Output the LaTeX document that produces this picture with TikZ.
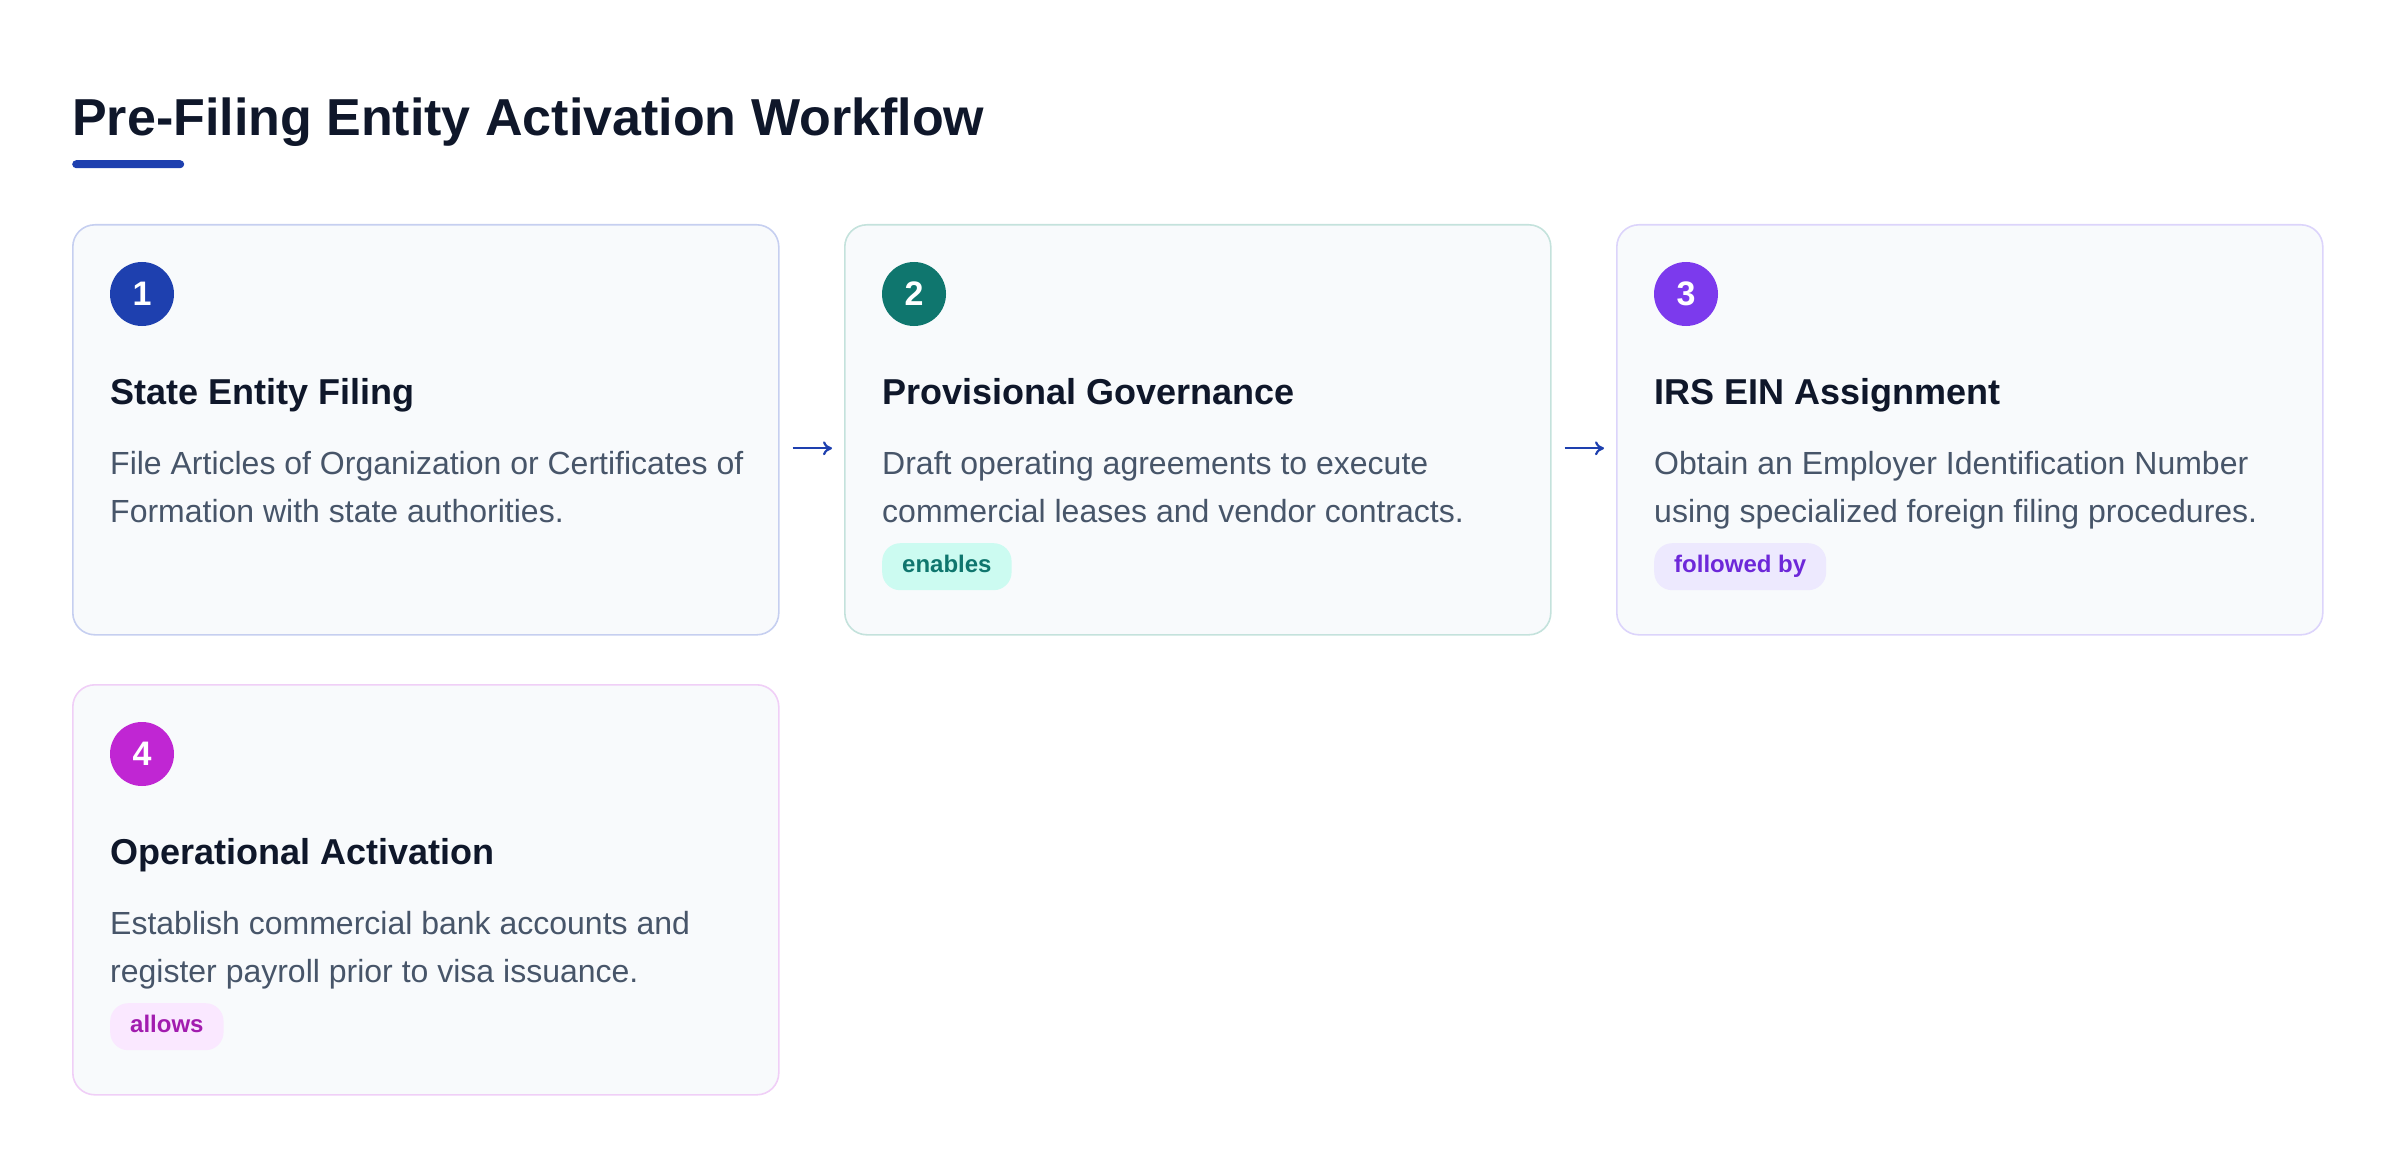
\documentclass[tikz,border=0pt]{standalone}
\usepackage{fontspec}
\setmainfont{Liberation Sans}
\usetikzlibrary{arrows.meta}
\definecolor{ttl}{HTML}{0F172A}
\definecolor{desc}{HTML}{475569}
\definecolor{cardfill}{HTML}{F8FAFC}
\definecolor{aone}{HTML}{1E40AF}
\definecolor{atwo}{HTML}{0F766E}
\definecolor{athree}{HTML}{7C3AED}
\definecolor{afour}{HTML}{C026D3}
\definecolor{bone}{HTML}{C6CFF0}
\definecolor{btwo}{HTML}{C4E2DC}
\definecolor{bthree}{HTML}{DCD4FB}
\definecolor{bfour}{HTML}{F0CFF7}
\definecolor{pone}{HTML}{CCFBF1}
\definecolor{ptwo}{HTML}{EDE9FE}
\definecolor{pthree}{HTML}{FAE8FF}
\definecolor{tone}{HTML}{0F766E}
\definecolor{ttwo}{HTML}{6D28D9}
\definecolor{tthree}{HTML}{A21CAF}
\tikzset{
  card/.style={draw=#1, line width=1.6pt, fill=cardfill, rounded corners=22pt,
    minimum width=706pt, minimum height=410pt, anchor=north west, inner sep=0pt},
  numdot/.style={circle, fill=#1, minimum size=64pt, inner sep=0pt, text=white,
    font=\fontsize{34}{40}\selectfont\bfseries},
  heading/.style={anchor=base west, inner sep=0pt, text=ttl,
    font=\fontsize{36}{43}\selectfont\bfseries},
  body/.style={anchor=base west, inner sep=0pt, text=desc, text width=680pt, align=left,
    font=\fontsize{32}{48}\selectfont,
    execute at begin node={\spaceskip=\fontdimen2\font\relax}},
  pill/.style={fill=#1, rounded corners=18pt, anchor=north west, inner xsep=20pt, inner ysep=0pt,
    minimum height=47pt, text height=17pt, text depth=5pt,
    font=\fontsize{24}{29}\selectfont\bfseries},
  flow/.style={draw=aone, line width=2.2pt, -{To[length=9pt,width=14pt]}, shorten <=13pt, shorten >=12pt}
}
\begin{document}
\begin{tikzpicture}[x=1pt,y=-1pt]
\useasboundingbox (0,0) rectangle (2400,1166);
% title
\node[anchor=base west, inner sep=0pt, text=ttl, font=\fontsize{52}{62}\selectfont\bfseries] (title) at (72,136) {Pre-Filing Entity Activation Workflow};
\node[fill=aone, rounded corners=4pt, anchor=north west, minimum width=112pt, minimum height=8pt, inner sep=0pt] (bar) at (72,160) {};
% cards
\node[card=bone] (c1) at (72,224) {};
\node[card=btwo] (c2) at (844,224) {};
\node[card=bthree] (c3) at (1616,224) {};
\node[card=bfour] (c4) at (72,684) {};
% card 1
\node[numdot=aone] (n1) at (142,294) {1};
\node[heading] (h1) at (110,404) {State Entity Filing};
\node[body] (d1) at (110,474) {File Articles of Organization or Certificates of\\Formation with state authorities.};
% card 2
\node[numdot=atwo] (n2) at (914,294) {2};
\node[heading] (h2) at (882,404) {Provisional Governance};
\node[body] (d2) at (882,474) {Draft operating agreements to execute\\commercial leases and vendor contracts.};
\node[pill=pone, text=tone] (p2) at (882,543) {enables};
% card 3
\node[numdot=athree] (n3) at (1686,294) {3};
\node[heading] (h3) at (1654,404) {IRS EIN Assignment};
\node[body] (d3) at (1654,474) {Obtain an Employer Identification Number\\using specialized foreign filing procedures.};
\node[pill=ptwo, text=ttwo] (p3) at (1654,543) {followed by};
% card 4
\node[numdot=afour] (n4) at (142,754) {4};
\node[heading] (h4) at (110,864) {Operational Activation};
\node[body] (d4) at (110,934) {Establish commercial bank accounts and\\register payroll prior to visa issuance.};
\node[pill=pthree, text=tthree] (p4) at (110,1003) {allows};
% arrows
\draw[flow] ([yshift=-18.5pt]c1.east) -- ([yshift=-18.5pt]c2.west);
\draw[flow] ([yshift=-18.5pt]c2.east) -- ([yshift=-18.5pt]c3.west);
\end{tikzpicture}
\end{document}
